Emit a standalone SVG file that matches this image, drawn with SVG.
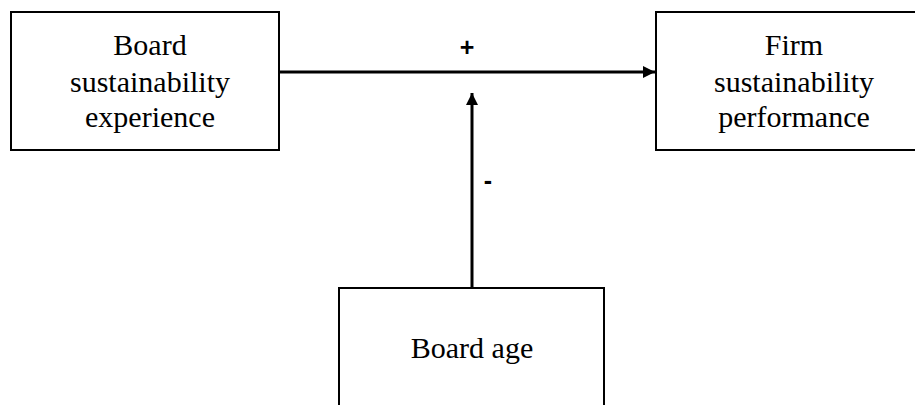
<svg xmlns="http://www.w3.org/2000/svg" width="915" height="405" viewBox="0 0 915 405">
  <style>
    .box { fill: #ffffff; stroke: #000000; stroke-width: 2; }
    .lbl { font-family: "Liberation Serif", "Times New Roman", serif; font-size: 30px; fill: #000000; text-anchor: middle; }
    .sign { font-family: "Liberation Sans", Arial, sans-serif; font-size: 25px; font-weight: bold; fill: #000000; text-anchor: middle; }
    .edge { stroke: #000000; stroke-width: 3; fill: none; }
  </style>
  <defs>
    <marker id="arrow" viewBox="0 0 10 10" refX="10" refY="5" markerWidth="4" markerHeight="4" markerUnits="strokeWidth" orient="auto">
      <path d="M0,0 L10,5 L0,10 Z" fill="#000000"/>
    </marker>
  </defs>

  <rect width="915" height="405" fill="#ffffff"/>

  <g id="board-experience">
    <rect class="box" x="11" y="12" width="268" height="138"/>
    <text class="lbl" x="150" y="55">Board</text>
    <text class="lbl" x="150" y="92">sustainability</text>
    <text class="lbl" x="150" y="127">experience</text>
  </g>

  <g id="firm-performance">
    <rect class="box" x="656" y="12" width="268" height="138"/>
    <text class="lbl" x="794" y="55">Firm</text>
    <text class="lbl" x="794" y="92">sustainability</text>
    <text class="lbl" x="794" y="127">performance</text>
  </g>

  <g id="board-age">
    <rect class="box" x="339" y="288" width="265" height="140"/>
    <text class="lbl" x="472" y="358">Board age</text>
  </g>

  <g id="connectors">
    <line class="edge" x1="279" y1="72" x2="655" y2="72" marker-end="url(#arrow)"/>
    <line class="edge" x1="472" y1="288" x2="472" y2="93" marker-end="url(#arrow)"/>
    <text class="sign" x="467" y="56">+</text>
    <text class="sign" x="488" y="189">-</text>
  </g>
</svg>
